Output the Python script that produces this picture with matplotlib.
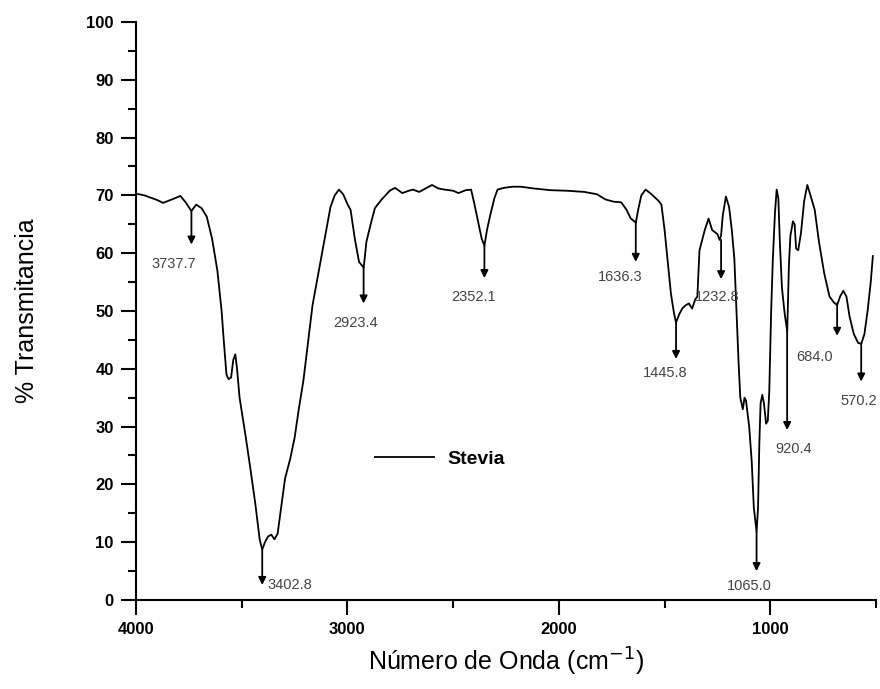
#!/usr/bin/env python3
# coding: utf-8
"""FTIR spectrum of Stevia with labelled absorption bands."""

import numpy as np
import matplotlib
matplotlib.use('Agg')
import matplotlib.pyplot as plt

plt.rcParams['font.family'] = ['Liberation Sans', 'DejaVu Sans']

# ── spectrum ──────────────────────────────────────────────────────────────────
wavenumber = [
    4000, 3960, 3900, 3872, 3830, 3790, 3765, 3738, 3715, 3690, 3665, 3640,
    3615, 3595, 3585, 3572, 3562, 3550, 3540, 3530, 3522, 3510, 3480, 3460,
    3435, 3415, 3403, 3390, 3375, 3360, 3345, 3330, 3310, 3295, 3270, 3250,
    3230, 3208, 3185, 3165, 3140, 3120, 3100, 3080, 3060, 3040, 3020, 3000,
    2985, 2965, 2945, 2923, 2910, 2890, 2870, 2840, 2800, 2775, 2740, 2710,
    2690, 2660, 2630, 2600, 2570, 2540, 2500, 2475, 2440, 2415, 2400, 2385,
    2365, 2352, 2340, 2325, 2305, 2290, 2260, 2220, 2180, 2120, 2040, 1960,
    1880, 1820, 1780, 1740, 1705, 1680, 1660, 1636, 1625, 1610, 1590, 1565,
    1530, 1515, 1500, 1485, 1470, 1455, 1446, 1430, 1415, 1400, 1385, 1370,
    1355, 1345, 1335, 1310, 1292, 1275, 1250, 1240, 1233, 1225, 1210, 1195,
    1182, 1170, 1160, 1150, 1142, 1130, 1122, 1115, 1100, 1088, 1078, 1065,
    1058, 1052, 1046, 1038, 1030, 1020, 1012, 1005, 996, 988, 978, 970,
    962, 955, 945, 932, 920, 912, 905, 893, 885, 878, 868, 855,
    840, 825, 810, 790, 770, 745, 720, 700, 684, 670, 655, 640,
    625, 605, 585, 570, 555, 540, 525, 515,
]
transmittance = [
    70.3, 70.0, 69.2, 68.7, 69.3, 69.9, 68.8, 67.3, 68.4, 67.8, 66.3, 62.5,
    57.0, 50.0, 45.0, 39.0, 38.2, 38.5, 41.5, 42.5, 40.0, 35.0, 28.0, 23.0,
    16.5, 10.5, 8.7, 10.0, 11.0, 11.3, 10.5, 11.5, 17.0, 21.0, 24.5, 28.0,
    33.0, 38.0, 45.0, 51.0, 56.0, 60.0, 64.0, 68.0, 70.0, 71.0, 70.2, 68.5,
    67.5, 62.5, 58.5, 57.5, 62.0, 65.0, 67.8, 69.2, 70.8, 71.3, 70.4, 70.8,
    71.0, 70.6, 71.2, 71.8, 71.2, 71.0, 70.8, 70.4, 70.9, 71.0, 68.6, 66.0,
    62.5, 61.3, 64.0, 66.5, 69.5, 71.0, 71.3, 71.5, 71.5, 71.2, 70.9, 70.8,
    70.6, 70.2, 69.3, 68.9, 68.8, 67.5, 66.0, 65.3, 67.5, 70.0, 71.0, 70.3,
    69.1, 68.4, 64.0, 58.5, 53.0, 49.5, 48.0, 49.5, 50.5, 51.0, 51.3, 50.4,
    52.0, 52.5, 60.5, 64.0, 66.0, 64.0, 63.3, 62.3, 63.0, 66.5, 69.8, 68.0,
    64.0, 59.0, 50.0, 41.0, 35.0, 33.0, 35.0, 34.5, 30.0, 24.0, 16.0, 11.8,
    16.0, 27.0, 34.0, 35.5, 34.0, 30.5, 31.0, 36.0, 50.0, 59.0, 67.0, 71.0,
    69.5, 62.0, 54.0, 49.5, 46.5, 58.0, 63.0, 65.5, 65.0, 60.8, 60.5, 63.5,
    69.0, 71.8, 70.0, 67.5, 62.0, 56.5, 52.5, 51.5, 51.0, 52.5, 53.5, 52.5,
    49.0, 46.0, 44.5, 44.3, 46.0, 50.0, 55.0, 59.5,
]

# ── labelled bands ────────────────────────────────────────────────────────────
peak_pos   = [3737.7, 3402.8, 2923.4, 2352.1, 1636.3, 1445.8, 1232.8, 1065.0, 920.4, 684.0, 570.2]
peak_top   = [67.3, 8.7, 57.5, 61.3, 65.3, 48.0, 62.3, 11.8, 47.0, 51.3, 44.4]
peak_tip   = [61.5, 2.6, 51.3, 55.7, 58.5, 41.7, 55.5, 5.0, 29.4, 45.7, 37.8]
label_x    = [3820, 3274, 2961, 2404, 1712, 1495, 1249, 1097, 888, 793, 582]
label_y    = [58.1, 2.6, 47.9, 52.4, 55.8, 39.3, 52.5, 2.4, 26.1, 42.0, 34.4]

fig = plt.figure(figsize=(8.8, 6.89), dpi=100)
ax = fig.add_axes([0.1545, 0.1292, 0.841, 0.8389])

ax.plot(wavenumber, transmittance, color='black', lw=1.3, label='Stevia')

for x, top, tip in zip(peak_pos, peak_top, peak_tip):
    ax.annotate('', xy=(x, tip), xytext=(x, top),
                arrowprops=dict(arrowstyle='-|>', color='black', lw=1.3,
                                mutation_scale=11, shrinkA=0, shrinkB=0))
for x, y, p in zip(label_x, label_y, peak_pos):
    ax.text(x, y, f'{p:.1f}', ha='center', va='center',
            fontsize=10.5, color='#444444')

ax.set_xlim(4000, 500)
ax.set_ylim(0, 100)
ax.set_xticks([4000, 3000, 2000, 1000])
ax.set_xticks([3500, 2500, 1500, 500], minor=True)
ax.set_yticks(np.arange(0, 101, 10))
ax.set_yticks(np.arange(5, 100, 10), minor=True)

for s in ('top', 'right'):
    ax.spines[s].set_visible(False)
for s in ('left', 'bottom'):
    ax.spines[s].set_linewidth(1.5)

ax.tick_params(which='major', direction='out', length=11, width=1.5,
               labelsize=12, pad=5)
ax.tick_params(which='minor', direction='out', length=6, width=1.5)
for lab in ax.get_xticklabels() + ax.get_yticklabels():
    lab.set_fontweight('bold')

ax.set_xlabel('Número de Onda (cm$^{-1}$)', fontsize=18, labelpad=6)
ax.set_ylabel('% Transmitancia', fontsize=18, labelpad=34)

leg = ax.legend(loc='center left', bbox_to_anchor=(0.300, 0.244),
                frameon=False, handlelength=3.0, handletextpad=0.7,
                prop={'size': 14, 'weight': 'bold'})

plt.savefig('out.png', dpi=100)
plt.close()
